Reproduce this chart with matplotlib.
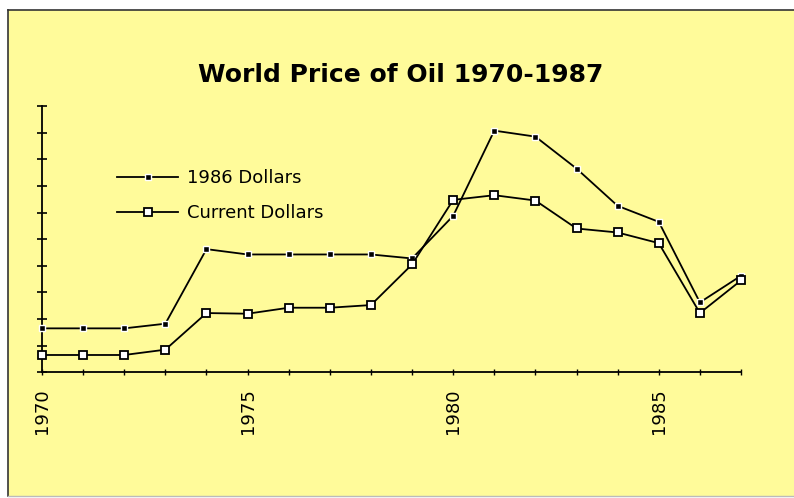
import matplotlib.pyplot as plt
from matplotlib.patches import Rectangle

# world oil price (y ticks every 4 units, no labels shown)
years = list(range(1970, 1988))
dollars_1986 = [6.6, 6.6, 6.6, 7.3, 18.5, 17.7, 17.7, 17.7, 17.7, 17.1,
                23.5, 36.3, 35.4, 30.6, 25.0, 22.6, 10.5, 14.5]
dollars_current = [2.6, 2.6, 2.6, 3.4, 8.9, 8.8, 9.7, 9.7, 10.1, 16.2,
                   25.9, 26.6, 25.8, 21.6, 21.0, 19.4, 8.9, 13.8]
labels = ["1986 Dollars", "Current Dollars"]
year_labels = [1970, 1975, 1980, 1985]

W, H = 794, 498
bg = '#FFFB9A'

fig = plt.figure(figsize=(W / 100, H / 100), dpi=100, facecolor='white')
# yellow panel with a thin frame like the old screenshot
fig.patches.append(Rectangle((8 / W, 2 / H), (W - 8) / W, (H - 12) / H,
                             transform=fig.transFigure, facecolor=bg,
                             edgecolor='none', zorder=-10))
fig.lines.append(plt.Line2D([8 / W, 8 / W], [2 / H, (H - 10) / H],
                            transform=fig.transFigure, color='#333333', lw=1.2, zorder=-5))
fig.lines.append(plt.Line2D([8 / W, 1], [(H - 10) / H, (H - 10) / H],
                            transform=fig.transFigure, color='#333333', lw=1.2, zorder=-5))
fig.lines.append(plt.Line2D([8 / W, 1], [2 / H, 2 / H],
                            transform=fig.transFigure, color='#bbbbbb', lw=1.0, zorder=-5))

ax = fig.add_axes([42 / W, (H - 372.3) / H, (741 - 42) / W, (372.3 - 106) / H])
ax.patch.set_visible(False)
ax.set_zorder(5)

ax.plot(years, dollars_1986, color='black', lw=1.3, marker='s', ms=4.5,
        mfc='black', mec='white', mew=1.0, clip_on=False, label=labels[0], zorder=3)
ax.plot(years, dollars_current, color='black', lw=1.3, marker='s', ms=6.0,
        mfc='white', mec='black', mew=1.3, clip_on=False, label=labels[1], zorder=3)

ax.set_xlim(1970, 1987)
ax.set_ylim(0, 40)
ax.spines['top'].set_visible(False)
ax.spines['right'].set_visible(False)
ax.spines['left'].set_linewidth(1.3)
ax.spines['bottom'].set_linewidth(1.3)

ax.set_yticks(range(0, 41, 4))
ax.set_yticklabels([])
ax.tick_params(axis='y', direction='inout', length=7, width=1.2)
ax.set_xticks(years)
ax.set_xticklabels([str(y) if y in year_labels else '' for y in years],
                   rotation=90, fontsize=13)
ax.tick_params(axis='x', direction='inout', length=5, width=1.0, pad=9)

ax.set_title("World Price of Oil 1970-1987", fontsize=18, fontweight='bold',
             pad=17, x=(401 - 42) / (741 - 42))

ax.legend(loc='upper left', bbox_to_anchor=((117 - 42) / (741 - 42), (372.3 - 169) / (372.3 - 106)),
          frameon=False, fontsize=13, handlelength=3.4, handletextpad=0.5,
          labelspacing=0.95, borderpad=0, borderaxespad=0)

plt.savefig('out.png', dpi=100, facecolor='white')
